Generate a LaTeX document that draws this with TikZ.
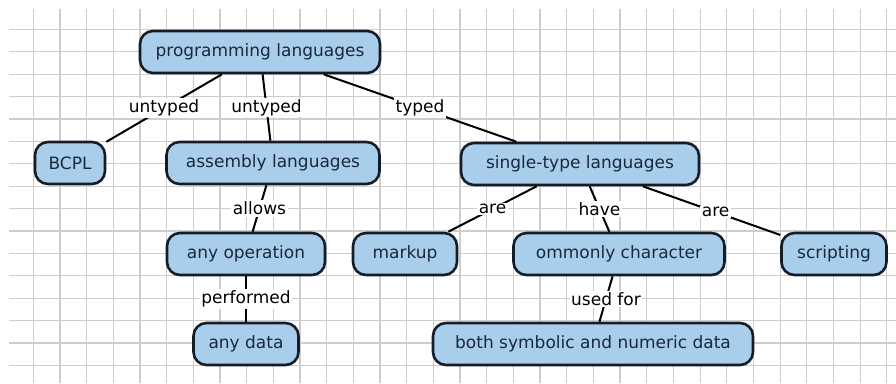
\documentclass[tikz,border=0pt]{standalone}
\usepackage{fontspec}
\setmainfont{DejaVu Sans}
\usepackage{tikz}
\definecolor{conceptfill}{RGB}{168,206,235}
\definecolor{conceptline}{RGB}{20,28,40}
\definecolor{concepttext}{RGB}{25,40,60}
\definecolor{gridgray}{RGB}{205,205,205}
\tikzset{
  concept/.style={draw=conceptline, line width=2.6pt, fill=conceptfill, rounded corners=13pt,
    text=concepttext, minimum height=42pt, inner sep=0pt, font=\fontsize{17}{20}\selectfont},
  link/.style={line width=2pt, black},
  linklabel/.style={fill=white, inner sep=1.5pt, text=black, font=\fontsize{17}{20}\selectfont}
}
\begin{document}
\begin{tikzpicture}[x=1pt, y=-1pt]
	\useasboundingbox (0,0) rectangle (896,383);
	\fill[white] (0,0) rectangle (896,383);
	% grid paper
	\foreach \k in {1,...,33} {\draw[gridgray, line width=1.2pt] ({6.67+26.67*\k},9) -- ({6.67+26.67*\k},383);}
	\foreach \k in {0,...,15} {\draw[gridgray, line width=1.2pt] (9,{29.3+22.4*\k}) -- (896,{29.3+22.4*\k});}
	% concepts
	\node[concept, minimum width=240pt] (proglang) at (260,52) {programming languages};
	\node[concept, minimum width=70pt] (bcpl) at (70,163) {BCPL};
	\node[concept, minimum width=213pt] (assembly) at (273,163) {assembly languages};
	\node[concept, minimum width=238pt] (singletype) at (580,164) {single-type languages};
	\node[concept, minimum width=158pt] (anyop) at (246,254) {any operation};
	\node[concept, minimum width=104pt] (markup) at (405,254) {markup};
	\node[concept, minimum width=211pt] (character) at (619,254) {ommonly character};
	\node[concept, minimum width=105pt] (scripting) at (834,254) {scripting};
	\node[concept, minimum width=105pt] (anydata) at (246,344) {any data};
	\node[concept, minimum width=320pt] (bothdata) at (593,344) {both symbolic and numeric data};
	% links
	\draw[link] (proglang) -- node[linklabel] {untyped} (bcpl);
	\draw[link] (proglang) -- node[linklabel] {untyped} (assembly);
	\draw[link] (proglang) -- node[linklabel] {typed} (singletype);
	\draw[link] (assembly) -- node[linklabel] {allows} (anyop);
	\draw[link] (anyop) -- node[linklabel] {performed} (anydata);
	\draw[link] (singletype) -- node[linklabel] {are} (markup);
	\draw[link] (singletype) -- node[linklabel] {have} (character);
	\draw[link] (singletype) -- node[linklabel, pos=0.53] {are} (scripting);
	\draw[link] (character) -- node[linklabel] {used for} (bothdata);
\end{tikzpicture}
\end{document}
